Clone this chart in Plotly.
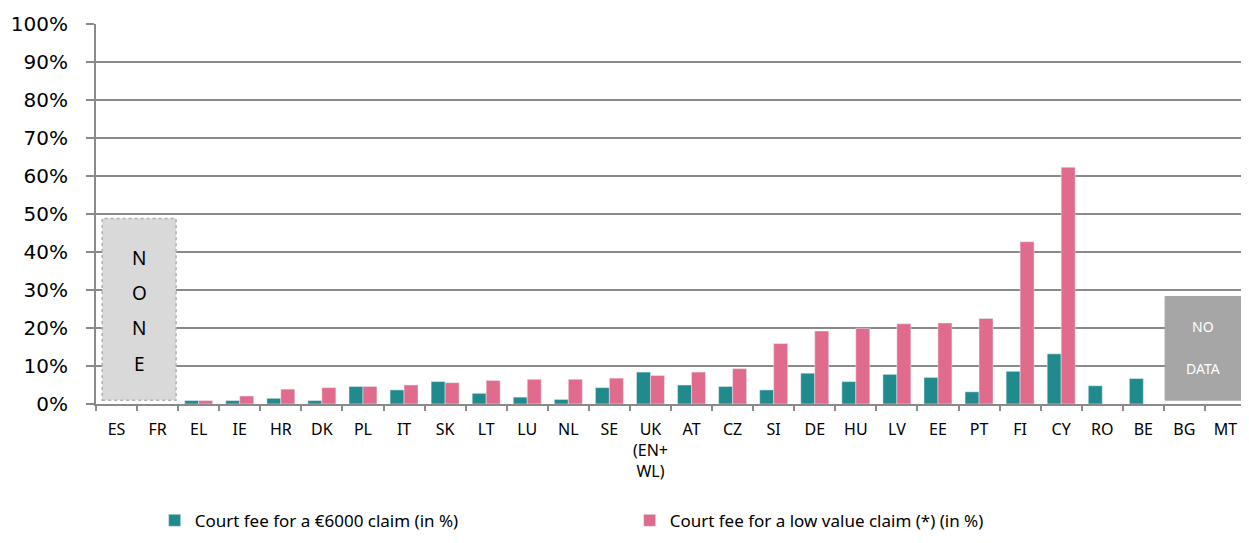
import plotly.graph_objects as go

countries = ["ES", "FR", "EL", "IE", "HR", "DK", "PL", "IT", "SK", "LT", "LU", "NL", "SE",
             "UK<br>(EN+<br>WL)", "AT", "CZ", "SI", "DE", "HU", "LV", "EE", "PT", "FI", "CY",
             "RO", "BE", "BG", "MT"]
fee_6000 = [None, None, 0.9, 0.9, 1.5, 0.9, 4.6, 3.7, 5.9, 2.8, 1.8, 1.2, 4.3,
            8.4, 5.0, 4.6, 3.7, 8.1, 5.9, 7.8, 7.0, 3.2, 8.6, 13.2,
            4.8, 6.7, None, None]
fee_low = [None, None, 0.9, 2.1, 3.9, 4.3, 4.6, 5.0, 5.6, 6.2, 6.5, 6.5, 6.8,
           7.5, 8.4, 9.3, 15.9, 19.2, 19.9, 21.1, 21.3, 22.5, 42.7, 62.3,
           None, None, None, None]

TEAL = "#218a8c"
PINK = "#e06b8c"
GRID = "#8a8a8a"
FONT = "Noto Sans"

fig = go.Figure()
fig.add_trace(go.Bar(x=countries, y=fee_6000, name="Court fee for a €6000 claim (in %)",
                     marker_color=TEAL))
fig.add_trace(go.Bar(x=countries, y=fee_low, name="Court fee for a low value claim (*) (in %)",
                     marker_color=PINK))

# "NONE" box over ES/FR
fig.add_shape(type="rect", xref="x", yref="y", x0=-0.35, x1=1.45, y0=1, y1=48.8,
              fillcolor="#d9d9d9", line=dict(color="#b0b0b0", width=1.5, dash="dot"), layer="above")
for i, letter in enumerate("NONE"):
    fig.add_annotation(x=0.55, y=38.5 - i * 9.3, xref="x", yref="y", text=letter, showarrow=False,
                       font=dict(family=FONT, size=19, color="black"))

# "NO DATA" box over BG/MT
fig.add_shape(type="rect", xref="x", yref="y", x0=25.53, x1=27.4, y0=1, y1=28.3,
              fillcolor="#a6a6a6", line=dict(color="#a6a6a6", width=1), layer="above")
fig.add_annotation(x=26.45, y=20.5, xref="x", yref="y", text="NO", showarrow=False,
                   font=dict(family=FONT, size=14, color="white"))
fig.add_annotation(x=26.45, y=9.3, xref="x", yref="y", text="DATA", showarrow=False,
                   font=dict(family=FONT, size=14, color="white"))

# the page body keeps an 8px margin, so the figure is sized to fit inside the window
fig.update_layout(
    width=1241, height=527,
    margin=dict(l=88, r=3, t=16, b=131),
    paper_bgcolor="white", plot_bgcolor="white",
    barmode="group", bargap=0.32, bargroupgap=0,
    font=dict(family=FONT, color="black"),
    legend=dict(orientation="h", x=0.051, xanchor="left", yref="container", y=0.027,
                yanchor="middle", entrywidth=430, entrywidthmode="pixels", font=dict(size=17),
                itemwidth=30, traceorder="normal"),
)
fig.update_xaxes(
    type="category", tickfont=dict(size=16), tickangle=0, ticks="outside", tickson="boundaries",
    ticklen=5, tickcolor=GRID, tickwidth=2, showline=True, linecolor=GRID, linewidth=2,
    showgrid=False, ticklabelstandoff=10, range=[-0.5, 27.5], automargin=False,
)
fig.update_yaxes(
    range=[0, 100], dtick=10, ticksuffix="%", tickfont=dict(family="DejaVu Sans", size=20),
    showgrid=True, gridcolor=GRID, gridwidth=2, ticks="outside", ticklen=8,
    tickcolor=GRID, tickwidth=2, showline=True, linecolor=GRID, linewidth=2,
    zeroline=False, ticklabelstandoff=14, automargin=False,
)

fig.write_html("out.html")
